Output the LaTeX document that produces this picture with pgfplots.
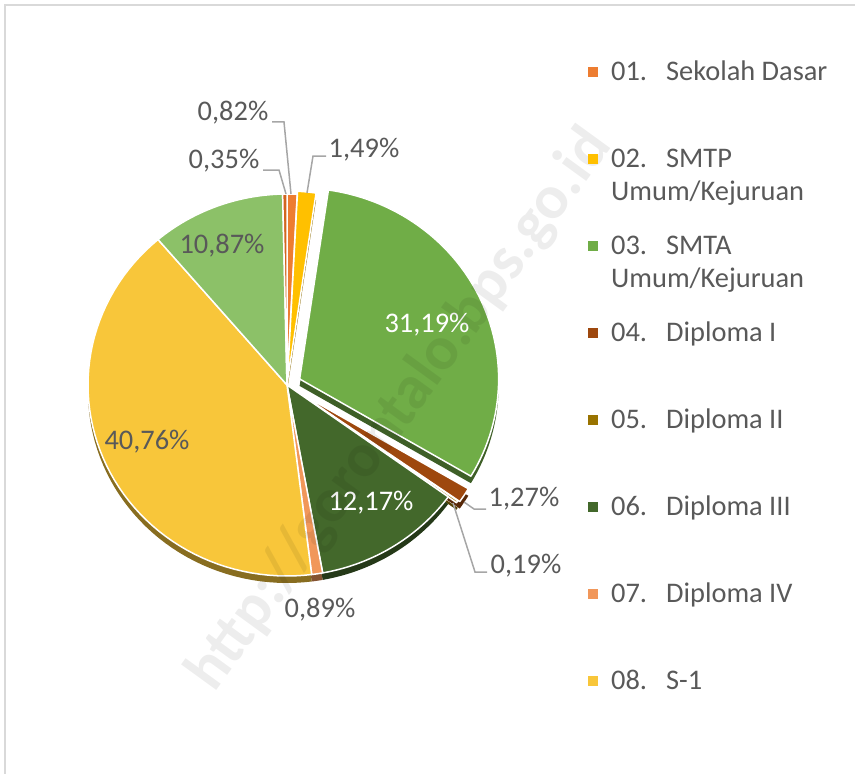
\documentclass[border=0pt]{standalone}
\usepackage{pgfplots}
\pgfplotsset{compat=1.18}
\usepackage{fontspec}
\setmainfont{Carlito}
\definecolor{cSD}{HTML}{ED7D31}
\definecolor{cSMTP}{HTML}{FFC000}
\definecolor{cSMTA}{HTML}{70AD47}
\definecolor{cD1}{HTML}{9E480E}
\definecolor{cD2}{HTML}{997300}
\definecolor{cD3}{HTML}{43682B}
\definecolor{cD4}{HTML}{F1975A}
\definecolor{cS1}{HTML}{F8C63A}
\definecolor{cS2}{HTML}{8CC168}
\definecolor{cS3}{HTML}{D2651F}
\definecolor{lab}{HTML}{595959}
\definecolor{lead}{HTML}{A6A6A6}
\newcommand\lbl{\fontsize{14.2bp}{16.5bp}\selectfont}
\newcommand\lgd[3]{\parbox[t]{6cm}{\strut\makebox[27.5bp][l]{#1}#2\\\strut#3}}
\newcommand\lgimg[1]{\addlegendimage{legend image code/.code={\fill[#1] (0bp,2.25bp) rectangle (4.5bp,6.75bp);}}}
\begin{document}
\begin{tikzpicture}
\begin{axis}[at={(0,0)},anchor=south west,
  width=427.5bp,height=387bp,scale only axis,
  xmin=0,xmax=855,ymin=0,ymax=774,y dir=reverse,
  hide axis,clip=false,
  legend style={at={(0.6877,0.9264)},anchor=north west,draw=none,fill=none,
    inner sep=0pt,row sep=10.5bp,column sep=6.5bp,
    nodes={inner sep=0pt,text depth=,font=\lbl,text=lab},
    cells={anchor=base west}},
]
% chart area border (top and left visible)
\draw[color=black!15,line width=1bp] (axis cs:5,774) -- (axis cs:5,5) -- (axis cs:855,5);
\def\cx{287}\def\cy{385}\def\rx{199}\def\ry{191}\def\depth{7}
% 3D side
\gdef\acc{90}
\foreach \v/\c/\e in {0.82/cSD/0, 1.49/cSMTP/3, 31.19/cSMTA/14, 1.27/cD1/12, 0.19/cD2/10, 12.17/cD3/0, 0.89/cD4/0, 40.76/cS1/0, 10.87/cS2/0, 0.35/cS3/0}{
  \pgfmathsetmacro\a{\acc}
  \pgfmathsetmacro\b{\acc-3.6*\v}
  \pgfmathsetmacro\m{(\a+\b)/2}
  \pgfmathsetmacro\ox{\cx+\e*cos(\m)}
  \pgfmathsetmacro\oy{\cy-\e*sin(\m)+\depth}
  \edef\doit{\noexpand\addplot[forget plot,fill=\c!55!black,draw=none,domain=\b:\a,samples=60] ({\ox+\rx*cos(x)},{\oy-\ry*sin(x)}) -- (axis cs:\ox,\oy) -- cycle;}
  \doit
  \xdef\acc{\b}
}
% top faces
\gdef\acc{90}
\foreach \v/\c/\e in {0.82/cSD/0, 1.49/cSMTP/3, 31.19/cSMTA/14, 1.27/cD1/12, 0.19/cD2/10, 12.17/cD3/0, 0.89/cD4/0, 40.76/cS1/0, 10.87/cS2/0, 0.35/cS3/0}{
  \pgfmathsetmacro\a{\acc}
  \pgfmathsetmacro\b{\acc-3.6*\v}
  \pgfmathsetmacro\m{(\a+\b)/2}
  \pgfmathsetmacro\ox{\cx+\e*cos(\m)}
  \pgfmathsetmacro\oy{\cy-\e*sin(\m)}
  \edef\doit{\noexpand\addplot[forget plot,fill=\c,draw=white,line width=0.75bp,line join=round,domain=\b:\a,samples=60] ({\ox+\rx*cos(x)},{\oy-\ry*sin(x)}) -- (axis cs:\ox,\oy) -- cycle;}
  \doit
  \xdef\acc{\b}
}
% leader lines
\draw[lead,line width=0.75bp] (axis cs:272,122) -- (axis cs:284,122) -- (axis cs:291,194);
\draw[lead,line width=0.75bp] (axis cs:263,170) -- (axis cs:279,170) -- (axis cs:286,194);
\draw[lead,line width=0.75bp] (axis cs:326,156) -- (axis cs:313,156) -- (axis cs:307,193);
\draw[lead,line width=0.75bp] (axis cs:486,509) -- (axis cs:474,509) -- (axis cs:464,502);
\draw[lead,line width=0.75bp] (axis cs:487,572) -- (axis cs:475,572) -- (axis cs:453,503);
% data labels
\node[font=\lbl,text=lab] at (axis cs:233,113) {0,82\%};
\node[font=\lbl,text=lab] at (axis cs:224,161) {0,35\%};
\node[font=\lbl,text=lab] at (axis cs:364,150) {1,49\%};
\node[font=\lbl,text=white] at (axis cs:427,325) {31,19\%};
\node[font=\lbl,text=lab] at (axis cs:524,499) {1,27\%};
\node[font=\lbl,text=lab] at (axis cs:526,566) {0,19\%};
\node[font=\lbl,text=white] at (axis cs:371,503) {12,17\%};
\node[font=\lbl,text=lab] at (axis cs:320,610) {0,89\%};
\node[font=\lbl,text=lab] at (axis cs:147,442) {40,76\%};
\node[font=\lbl,text=lab] at (axis cs:222,246) {10,87\%};
% legend
\lgimg{cSD}\addlegendentry{\lgd{01.}{Sekolah Dasar}{}}
\lgimg{cSMTP}\addlegendentry{\lgd{02.}{SMTP}{Umum/Kejuruan}}
\lgimg{cSMTA}\addlegendentry{\lgd{03.}{SMTA}{Umum/Kejuruan}}
\lgimg{cD1}\addlegendentry{\lgd{04.}{Diploma I}{}}
\lgimg{cD2}\addlegendentry{\lgd{05.}{Diploma II}{}}
\lgimg{cD3}\addlegendentry{\lgd{06.}{Diploma III}{}}
\lgimg{cD4}\addlegendentry{\lgd{07.}{Diploma IV}{}}
\lgimg{cS1}\addlegendentry{\lgd{08.}{S-1}{}}
% watermark
\node[rotate=54,font=\fontsize{31bp}{31bp}\selectfont\bfseries,text=black,text opacity=0.07] at (axis cs:400,410) {http://gorontalo.bps.go.id};
\end{axis}
\pgfresetboundingbox
\path (0,0) rectangle (427.5bp,387bp);
\end{tikzpicture}
\end{document}
